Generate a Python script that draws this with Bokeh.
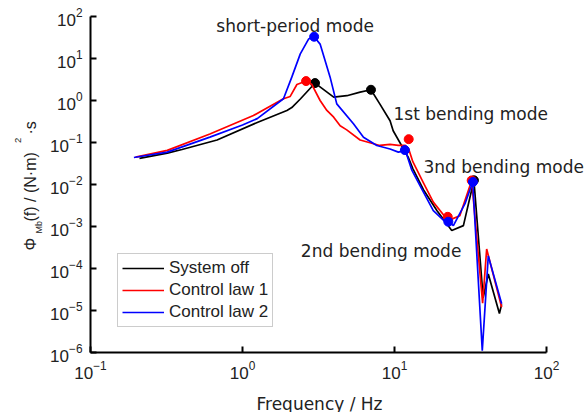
import math
from bokeh.plotting import figure
from bokeh.models import Label, Legend, LegendItem, FixedTicker
from bokeh.embed import file_html
from bokeh.resources import INLINE

# ---- data ----
off_f = [0.21, 0.32, 0.4, 0.68, 1.25, 1.96, 2.11, 2.41, 2.86, 3.0, 3.98, 4.86, 5.94, 7.0,
         8.0, 9.35, 9.8, 12.3, 13.2, 15.5, 19.0, 23.8, 28.4, 33.3, 38.3, 41.4, 49.0, 50.7]
off_v = [0.042, 0.056, 0.068, 0.115, 0.30, 0.58, 0.68, 1.1, 2.15, 2.6, 1.2, 1.3, 1.58, 1.8,
         0.83, 0.33, 0.19, 0.045, 0.024, 0.0075, 0.0024, 0.0008, 0.00105, 0.0126, 2e-5, 7.4e-5, 8.5e-6, 1.4e-5]

law1_f = [0.198, 0.32, 0.61, 1.18, 1.86, 2.06, 2.28, 2.62, 2.86, 3.24, 3.59, 3.98, 4.39, 4.85,
          5.94, 8.0, 9.35, 10.6, 11.8, 12.4, 13.2, 15.5, 18.0, 21.5, 22.4, 23.8, 26.9, 32.2,
          38.0, 40.4, 50.7]
law1_v = [0.045, 0.065, 0.16, 0.44, 1.1, 1.25, 2.4, 2.9, 2.4, 1.0, 0.58, 0.40, 0.25, 0.2,
          0.115, 0.085, 0.09, 0.085, 0.085, 0.07, 0.035, 0.011, 0.0038, 0.0017, 0.0016, 0.0015,
          0.0018, 0.0125, 1.5e-5, 2.9e-4, 1.2e-5]

law2_f = [0.193, 0.32, 0.61, 1.0, 1.25, 1.86, 2.11, 2.4, 2.72, 2.96, 3.24, 3.77, 4.17, 5.37,
          6.25, 7.65, 9.35, 10.6, 11.7, 12.0, 13.0, 15.5, 18.0, 21.5, 22.6, 24.4, 29.1, 32.7,
          37.8, 41.4, 50.7]
law2_v = [0.044, 0.059, 0.134, 0.26, 0.37, 1.1, 3.6, 12.9, 29, 33, 22, 3.6, 0.83, 0.28,
          0.134, 0.085, 0.07, 0.059, 0.064, 0.053, 0.022, 0.0066, 0.0024, 0.0013, 0.0013, 0.00105,
          0.0035, 0.0115, 1.1e-6, 2.0e-4, 1.45e-5]

off_mode_f = [3.0, 7.0, 33.3]
off_mode_v = [2.6, 1.8, 0.0126]
law1_mode_f = [2.62, 12.4, 22.4, 32.2]
law1_mode_v = [2.9, 0.12, 0.0017, 0.0125]
law2_mode_f = [2.96, 11.7, 22.6, 32.8]
law2_mode_v = [33, 0.066, 0.0013, 0.0115]

series_names = ["System off", "Control law 1", "Control law 2"]

ann_text = ["short-period mode", "1st bending mode", "3nd bending mode", "2nd bending mode"]
ann_f = [0.673, 9.85, 15.5, 2.42]
ann_v = [61, 0.49, 0.0258, 2.68e-4]

x_ticks = [0.1, 1, 10, 100]
y_ticks = [1e-6, 1e-5, 1e-4, 1e-3, 1e-2, 1e-1, 1, 10, 100]
x_span = (0.1, 100)
y_span = (1e-6, 1e2)

# ---- geometry: the frame fills the whole canvas; axes are pinned at the data edges ----
W, H = 587, 412
ax_left, ax_top, ax_w, ax_h = 90, 16, 456, 336
dec_x = ax_w / math.log10(x_span[1] / x_span[0])
dec_y = ax_h / math.log10(y_span[1] / y_span[0])
x_range = (x_span[0] / 10 ** (ax_left / dec_x), x_span[0] * 10 ** ((W - ax_left) / dec_x))
y_range = (y_span[0] / 10 ** ((H - ax_top - ax_h) / dec_y), y_span[1] * 10 ** (ax_top / dec_y))

p = figure(width=W, height=H, x_axis_type="log", y_axis_type="log",
           x_range=x_range, y_range=y_range,
           output_backend="svg", toolbar_location=None, title=None,
           min_border=0, min_border_left=0, min_border_right=0,
           min_border_top=0, min_border_bottom=0)
p.outline_line_color = None
p.xgrid.visible = False
p.ygrid.visible = False
p.background_fill_color = "white"
p.border_fill_color = "white"

p.xaxis.fixed_location = y_span[0]
p.xaxis.bounds = x_span
p.yaxis.fixed_location = x_span[0]
p.yaxis.bounds = y_span

for ax, ticks in ((p.xaxis[0], x_ticks), (p.yaxis[0], y_ticks)):
    ax.ticker = FixedTicker(ticks=ticks, minor_ticks=[])
    ax.axis_line_width = 2
    ax.axis_line_color = "black"
    ax.major_tick_line_width = 2
    ax.major_tick_line_color = "black"
    ax.major_tick_in = 6
    ax.major_tick_out = 0
    ax.minor_tick_line_color = None
    ax.major_label_text_font = "Liberation Sans"
    ax.major_label_text_font_size = "17px"
    ax.major_label_text_color = "#222222"
    ax.major_label_standoff = 8

lw = 1.7
r0 = p.line(off_f, off_v, line_color="black", line_width=lw)
p.scatter(off_mode_f, off_mode_v, size=9, color="black")
r1 = p.line(law1_f, law1_v, line_color="#ff0000", line_width=lw)
p.scatter(law1_mode_f, law1_mode_v, size=9, color="#ff0000")
r2 = p.line(law2_f, law2_v, line_color="#0000ff", line_width=lw)
p.scatter(law2_mode_f, law2_mode_v, size=9, color="#0000ff")

legend = Legend(items=[LegendItem(label=series_names[0], renderers=[r0]),
                       LegendItem(label=series_names[1], renderers=[r1]),
                       LegendItem(label=series_names[2], renderers=[r2])],
                location=(117, H - 327), margin=0, padding=4, spacing=2,
                glyph_width=42, glyph_height=20, label_height=20, label_standoff=5,
                label_text_font="Liberation Sans", label_text_font_size="17px",
                label_text_color="#222222",
                border_line_color="#999999", border_line_width=1.2,
                background_fill_color="white", background_fill_alpha=1.0)
p.add_layout(legend)

for t, f, v in zip(ann_text, ann_f, ann_v):
    p.add_layout(Label(x=f, y=v, text=t, text_font="DejaVu Sans", text_font_size="17px",
                       text_color="#222222", text_align="left", text_baseline="alphabetic"))

# x axis title
p.add_layout(Label(x=319, y=H - 403, x_units="screen", y_units="screen", text="Frequency / Hz",
                   text_font="DejaVu Sans", text_font_size="17px", text_color="#222222",
                   text_align="center", text_baseline="alphabetic"))

# y axis title, pieced together (rotated, reads bottom to top)
ang = math.pi / 2
pieces = [("\u03a6", 29.5, H - 250, "16px"),
          ("Mb", 38, H - 233, "9px"),
          ("(f) / (N\u00b7m)", 29.5, H - 221, "16px"),
          ("2", 17.5, H - 142.5, "9.5px"),
          ("\u00b7s", 29.5, H - 134, "16px")]
for t, sx, sy, fs in pieces:
    p.add_layout(Label(x=sx, y=sy, x_units="screen", y_units="screen", text=t, angle=ang,
                       text_font="Liberation Sans", text_font_size=fs, text_color="#222222",
                       text_align="left", text_baseline="alphabetic"))

open("out.html", "w").write(file_html(p, INLINE))
